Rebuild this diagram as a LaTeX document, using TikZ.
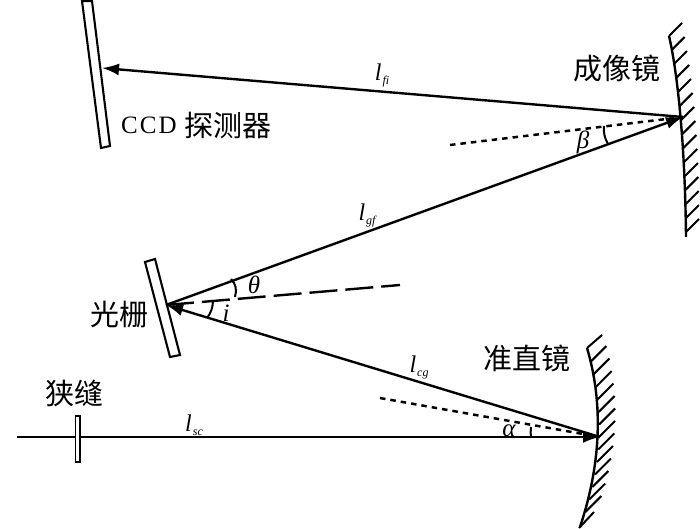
\documentclass[tikz,border=0pt]{standalone}
\usepackage{fontspec}
\setmainfont{Liberation Serif}
\newfontfamily\cjk{Noto Sans CJK SC}[Scale=1]
\usetikzlibrary{arrows.meta,calc}
\tikzset{
  x=1pt,y=-1pt,
  beam/.style={line width=2.4pt,-{Latex[length=17pt,width=12pt]}},
  plate/.style={draw,line width=2.1pt,fill=white},
  normal/.style={line width=2.5pt,dash pattern=on 5.5pt off 5pt},
  normalg/.style={line width=2.4pt,dash pattern=on 28pt off 8pt},
  arcline/.style={line width=2pt},
  mirror/.style={line width=2.4pt},
  hatch/.style={line width=2pt},
  cn/.style={font=\cjk\fontsize{29}{29}\selectfont,inner sep=0pt},
  lab/.style={font=\itshape\fontsize{25}{25}\selectfont,inner sep=0pt},
}
\newcommand{\lsub}[2]{\hbox{\fontsize{24}{24}\selectfont\itshape #1\kern1pt\lower4pt\hbox{\fontsize{12}{12}\selectfont\itshape #2}}}
\begin{document}
\begin{tikzpicture}
\useasboundingbox (0,0) rectangle (700,529);
% key points
\coordinate (G) at (166,305);
\coordinate (M1) at (683,117);
\coordinate (M2) at (600,437);
\coordinate (D) at (102,68);
\coordinate (S) at (17,437);
\coordinate (N1) at (450,145);
\coordinate (N2) at (380,398);
\coordinate (N3) at (400,285);
% image mirror
\draw[mirror] (669,36) .. controls (677,70) and (685,140) .. (686,237);
\foreach \y in {36,50,...,232}{
  \pgfmathsetmacro{\u}{(237-\y)/201}
  \pgfmathsetmacro{\xx}{686-17*\u^2.3}
  \draw[hatch] (\xx,\y) -- ++(13,-13);
}
% collimator mirror
\draw[mirror] (587,348) .. controls (601,395) and (604,455) .. (580,527);
\foreach \y in {362,374.5,...,520}{
  \pgfmathsetmacro{\u}{(\y-437)/90}
  \pgfmathsetmacro{\xx}{599-16*\u*\u-3*\u}
  \draw[hatch] (\xx,\y) -- ++(16,-16);
}
\draw[hatch] (587,348) -- ++(15,-13);
\draw[hatch] (579,528) -- ++(15,-16);
% plates
\draw[plate] (82,1) -- (92,1) -- (110,146) -- (101,148) -- cycle;
\draw[plate] (145,262) -- (155,259) -- (180,355) -- (170,357) -- cycle;
% rays
\draw[normalg] (G) -- (N3);
\draw[normal] (N1) -- (M1);
\draw[normal] (N2) -- (M2);
\draw[beam] (S) -- (M2);
\draw[beam] (M2) -- (G);
\draw[beam] (G) -- (M1);
\draw[beam] (M1) -- (D);
% slit
\draw[plate,line width=1.9pt] (75.5,416) rectangle (80,462);
% angle arcs
\draw[arcline] (231,279) .. controls (236,284) and (237,290) .. (235,297);
\draw[arcline] (213,300) .. controls (213,307) and (211,313) .. (207,318);
\draw[arcline] (604,126) .. controls (603,132) and (605,139) .. (608,144);
\draw[arcline] (531,427) .. controls (531,431) and (530,434) .. (531,437);
% labels
\node[cn] (tm1) at (616.5,68) {成像镜};
\node[cn] (tm2) at (527,358) {准直镜};
\node[cn] (tg) at (119.5,315) {光栅};
\node[cn] (ts) at (74,393) {狭缝};
\node[inner sep=0pt,anchor=west] (tc) at (121,125) {\fontsize{25}{25}\selectfont\addfontfeature{LetterSpace=8}CCD};
\node[cn,anchor=west] (td) at (184,125) {探测器};
\node[inner sep=0pt] (lfi) at (382,75) {\lsub{l}{fi}};
\node[inner sep=0pt] (lgf) at (367,215) {\lsub{l}{gf}};
\node[inner sep=0pt] (lcg) at (419,367) {\lsub{l}{cg}};
\node[inner sep=0pt] (lsc) at (194,425) {\lsub{l}{sc}};
\node[lab] (th) at (254,285) {θ};
\node[lab] (ii) at (226,313) {i};
\node[lab] (be) at (583,142) {β};
\node[lab] (al) at (509,431) {α};
\end{tikzpicture}
\end{document}
